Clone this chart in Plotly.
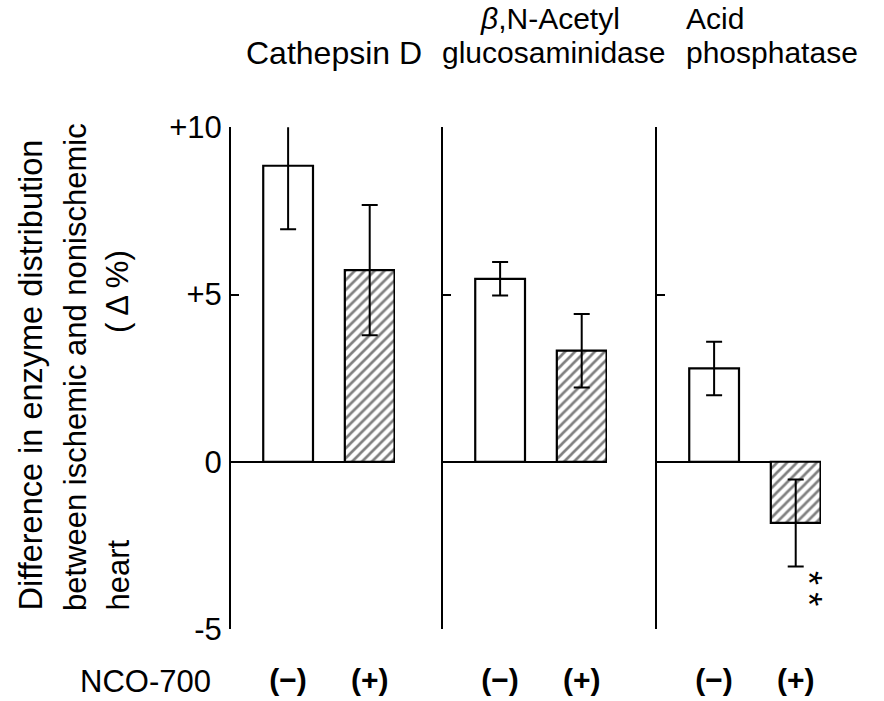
import plotly.graph_objects as go

W, H = 884, 701

enzymes = ["Cathepsin D", "β,N-Acetyl glucosaminidase", "Acid phosphatase"]
groups = ["<b>(−)</b>", "<b>(+)</b>"]
minus_vals = [8.85, 5.47, 2.79]
minus_err = [1.9, 0.5, 0.8]
plus_vals = [5.73, 3.32, -1.83]
plus_err = [1.95, 1.1, 1.3]
y_tickvals = [-5, 0, 5, 10]
y_ticktext = ["-5", "0", "+5", "+10"]
significance = "*\u2009*"

FONT = "Liberation Sans, Arial, sans-serif"

def px_x(p):
    return p / W

def px_y(p):
    return 1 - p / H

fig = go.Figure()

panel_px = [(231, 395), (443, 607), (657, 821)]
y_dom = [px_y(629), px_y(127.3)]

for i in range(3):
    xa = "x" if i == 0 else f"x{i+1}"
    ya = "y" if i == 0 else f"y{i+1}"
    fig.add_trace(go.Bar(
        x=[0, 1],
        y=[minus_vals[i], plus_vals[i]],
        width=0.61,
        marker=dict(
            color="white",
            line=dict(color="black", width=2.2),
            pattern=dict(shape=["", "/"], fgcolor="black", bgcolor="white",
                         size=7, solidity=0.38),
        ),
        error_y=dict(type="data", array=[minus_err[i], plus_err[i]],
                     color="black", thickness=2, width=8),
        xaxis=xa, yaxis=ya, showlegend=False, hoverinfo="skip",
    ))
    xkey = "xaxis" if i == 0 else f"xaxis{i+1}"
    ykey = "yaxis" if i == 0 else f"yaxis{i+1}"
    fig.update_layout(**{
        xkey: dict(domain=[px_x(panel_px[i][0]), px_x(panel_px[i][1])],
                   range=[-0.70, 1.31], anchor=ya, automargin=False,
                   tickvals=[0, 1], ticktext=groups, ticks="",
                   showline=False, showgrid=False, zeroline=False,
                   tickfont=dict(size=30, family=FONT, color="black"),
                   ticklabelstandoff=30, fixedrange=True),
        ykey: dict(domain=y_dom, range=[-5, 10], anchor=xa, automargin=False,
                   tickvals=y_tickvals, ticktext=y_ticktext,
                   showticklabels=(i == 0),
                   ticks="inside", ticklen=8, tickwidth=2, tickcolor="black",
                   showline=True, linecolor="black", linewidth=2,
                   showgrid=False, zeroline=True, zerolinecolor="black",
                   zerolinewidth=2,
                   tickfont=dict(size=31, family=FONT, color="black"),
                   ticklabelstandoff=1, fixedrange=True),
    })

anns = []
def ann(text, x, y, xanchor="center", yanchor="middle", size=30, angle=0):
    anns.append(dict(text=text, x=px_x(x), y=px_y(y), xref="paper", yref="paper",
                     xanchor=xanchor, yanchor=yanchor, showarrow=False,
                     textangle=angle,
                     font=dict(size=size, family=FONT, color="black")))

# titles
ann("Cathepsin D", 244, 53, xanchor="left", size=32)
ann("<i>β</i>,N-Acetyl", 478, 19, xanchor="left")
ann("glucosaminidase", 440, 53, xanchor="left")
ann("Acid", 684, 19, xanchor="left")
ann("phosphatase", 684, 53, xanchor="left")

# y title
ann("Difference in enzyme distribution", 30, 613, yanchor="bottom", size=32.5, angle=-90)
ann("between ischemic and nonischemic", 75, 613, yanchor="bottom", size=31, angle=-90)
ann("heart", 118, 613, yanchor="bottom", size=31, angle=-90)
ann("( Δ %)", 118, 292, size=31, angle=-90)

ann("NCO-700", 145, 681, size=31)

# significance, stacked vertically
ann(significance, 809, 588, size=36, angle=90)

fig.update_layout(
    width=W, height=H,
    margin=dict(l=0, r=0, t=0, b=0),
    paper_bgcolor="white", plot_bgcolor="white",
    annotations=anns, bargap=0,
)

fig.write_html("out.html",
               config={"displayModeBar": False, "staticPlot": True},
               post_script="document.body.style.margin='0';document.body.style.overflow='hidden';")
